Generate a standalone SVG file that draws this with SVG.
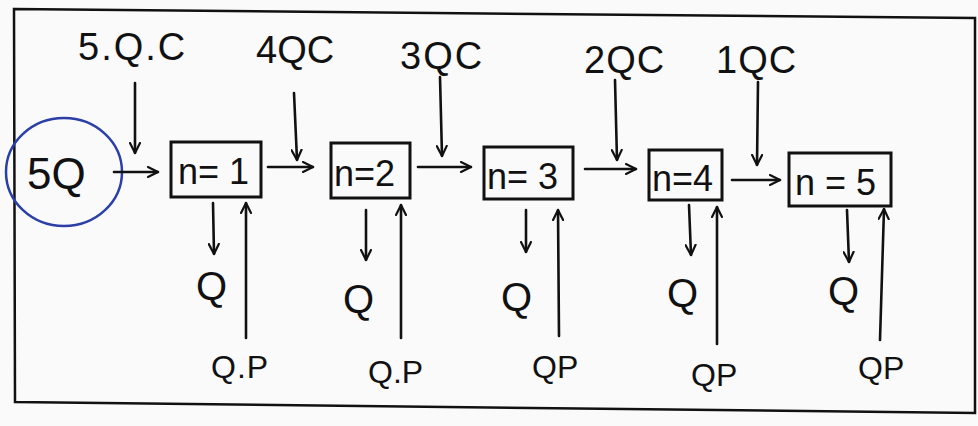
<svg xmlns="http://www.w3.org/2000/svg" width="978" height="426" viewBox="0 0 978 426">
<defs>
<marker id="ah" viewBox="0 0 12 12" refX="11" refY="6" markerWidth="12" markerHeight="12" markerUnits="userSpaceOnUse" orient="auto">
<polyline points="1,1 11,6 1,11" fill="none" stroke="#111" stroke-width="2.2" stroke-linecap="round" stroke-linejoin="round"/>
</marker>
<style>
.t{font-family:"Liberation Sans","DejaVu Sans",sans-serif;fill:#111}
.lbl{font-size:38px}
.box{fill:none;stroke:#111;stroke-width:3}
.bt{font-size:36px}
.c{stroke:#111;stroke-width:2.6;fill:none;marker-end:url(#ah);stroke-linecap:round}
.q{font-size:40px}
.qp{font-size:32px}
</style>
</defs>
<rect width="978" height="426" fill="#fafafa"/>
<path d="M14,9 L975,18 L975,413 L15,402 Z" fill="none" stroke="#111" stroke-width="2.5"/>

<g id="start">
<ellipse cx="64" cy="172" rx="58" ry="54" fill="none" stroke="#2a3fa8" stroke-width="2.5"/>
<text class="t" x="27" y="189" font-size="44">5Q</text>
</g>

<g id="n1"><rect class="box" x="171" y="142" width="90" height="55"/><text class="t bt" x="178" y="184">n= 1</text></g>
<g id="n2"><rect class="box" x="331" y="143" width="79" height="55"/><text class="t bt" x="334" y="186">n=2</text></g>
<g id="n3"><rect class="box" x="484" y="147" width="89" height="52"/><text class="t bt" x="487" y="189">n= 3</text></g>
<g id="n4"><rect class="box" x="649" y="150" width="73" height="50"/><text class="t bt" x="652" y="191">n=4</text></g>
<g id="n5"><rect class="box" x="789" y="153" width="102" height="53"/><text class="t bt" x="795" y="195">n = 5</text></g>

<g id="inputs">
<text class="t lbl" x="78" y="60" letter-spacing="2">5.Q.C</text>
<text class="t lbl" x="256" y="63">4QC</text>
<text class="t lbl" x="400" y="69" letter-spacing="2">3QC</text>
<text class="t lbl" x="584" y="73" letter-spacing="1">2QC</text>
<text class="t lbl" x="716" y="73" letter-spacing="1">1QC</text>
</g>

<g id="outputs">
<text class="t q" x="196" y="300">Q</text>
<text class="t q" x="343" y="313">Q</text>
<text class="t q" x="501" y="311">Q</text>
<text class="t q" x="667" y="307">Q</text>
<text class="t q" x="828" y="305">Q</text>
<text class="t qp" x="211" y="378" letter-spacing="1">Q.P</text>
<text class="t qp" x="368" y="383">Q.P</text>
<text class="t qp" x="532" y="378">QP</text>
<text class="t qp" x="691" y="386">QP</text>
<text class="t qp" x="858" y="379">QP</text>
</g>

<g id="connectors">
<line class="c" x1="114" y1="172" x2="158" y2="172"/>
<line class="c" x1="268" y1="167" x2="313" y2="167"/>
<line class="c" x1="418" y1="167" x2="471" y2="167"/>
<line class="c" x1="585" y1="169" x2="636" y2="169"/>
<line class="c" x1="732" y1="180" x2="780" y2="180"/>

<line class="c" x1="135" y1="83" x2="135" y2="153"/>
<line class="c" x1="294" y1="93" x2="297" y2="160"/>
<line class="c" x1="440" y1="77" x2="442" y2="156"/>
<line class="c" x1="615" y1="80" x2="617" y2="160"/>
<line class="c" x1="758" y1="82" x2="757" y2="165"/>

<line class="c" x1="213" y1="203" x2="214" y2="254"/>
<line class="c" x1="366" y1="210" x2="366" y2="260"/>
<line class="c" x1="526" y1="210" x2="526" y2="252"/>
<line class="c" x1="689" y1="205" x2="691" y2="255"/>
<line class="c" x1="847" y1="210" x2="849" y2="262"/>

<line class="c" x1="246" y1="338" x2="246" y2="203"/>
<line class="c" x1="401" y1="338" x2="401" y2="205"/>
<line class="c" x1="559" y1="336" x2="558" y2="210"/>
<line class="c" x1="717" y1="344" x2="717" y2="207"/>
<line class="c" x1="880" y1="340" x2="884" y2="209"/>
</g>
</svg>
